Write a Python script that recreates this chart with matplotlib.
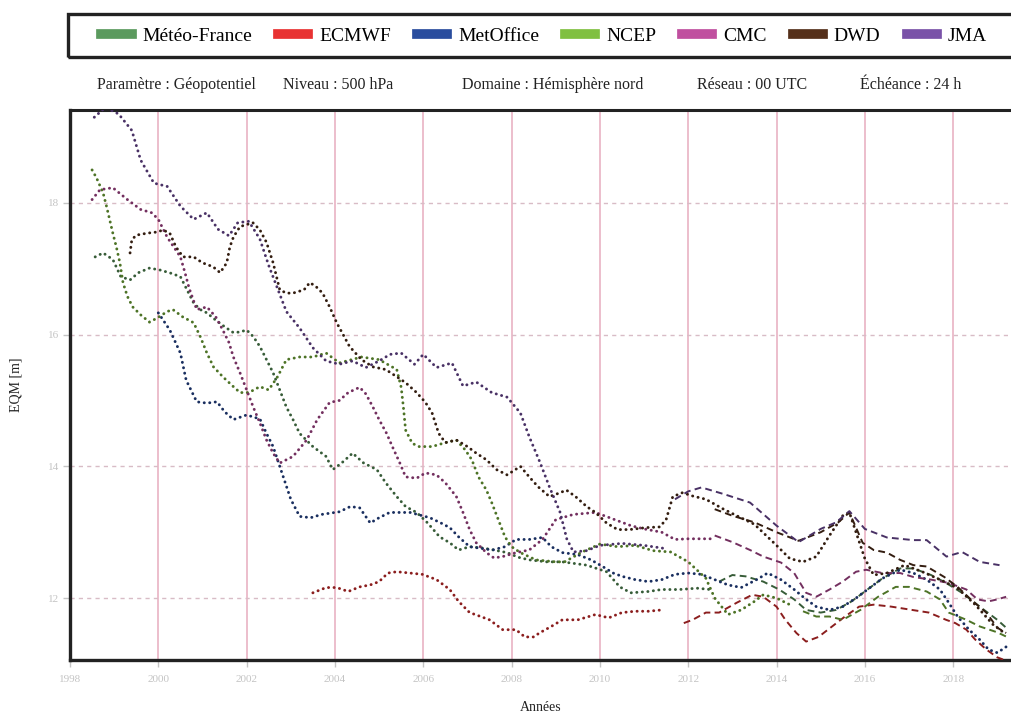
import matplotlib
matplotlib.use("Agg")
import matplotlib.pyplot as plt
from matplotlib.lines import Line2D
from matplotlib.patches import Rectangle

plt.rcParams['font.family'] = ['Liberation Serif', 'DejaVu Serif']

# Couleurs des centres (légende)
centres = ['Météo-France', 'ECMWF', 'MetOffice', 'NCEP', 'CMC', 'DWD', 'JMA']
couleurs = ['#5b9a5e', '#e83232', '#2a4d9e', '#80c040', '#c04f9f', '#55301a', '#7a52a8']

# ---- Données (EQM en m) ----
mf_x = [1998.57, 1998.75, 1998.97, 1999.15, 1999.36, 1999.55, 1999.8, 2000.04, 2000.25, 2000.5, 2000.65,
        2000.8, 2000.95, 2001.1, 2001.3, 2001.5, 2001.7, 2001.85, 2002.0, 2002.15, 2002.3, 2002.45, 2002.6,
        2002.75, 2002.9, 2003.05, 2003.2, 2003.5, 2003.8, 2003.95, 2004.15, 2004.4, 2004.65, 2004.95,
        2005.15, 2005.4, 2005.6, 2005.85, 2006.1, 2006.37, 2006.6, 2006.8, 2007.05, 2007.35, 2007.6,
        2007.9, 2008.15, 2008.4, 2008.8, 2009.15, 2009.7, 2010.15, 2010.45, 2010.7, 2011.1, 2011.4,
        2011.8, 2012.2, 2012.5]
mf_y = [17.18, 17.24, 17.14, 16.88, 16.83, 16.94, 17.01, 16.98, 16.94, 16.88, 16.68,
        16.48, 16.38, 16.33, 16.22, 16.12, 16.03, 16.04, 16.07, 15.97, 15.82, 15.62, 15.42,
        15.16, 14.9, 14.71, 14.5, 14.3, 14.15, 13.95, 14.05, 14.2, 14.05, 13.95,
        13.75, 13.54, 13.39, 13.3, 13.14, 12.93, 12.84, 12.73, 12.78, 12.76, 12.73,
        12.69, 12.62, 12.58, 12.55, 12.55, 12.5, 12.4, 12.17, 12.08, 12.1, 12.13,
        12.13, 12.15, 12.13]
mf2_x = [2012.7, 2013.0, 2013.3, 2013.7, 2014.06, 2014.4, 2014.67, 2015.0, 2015.35, 2015.7, 2016.0,
         2016.4, 2016.8, 2017.1, 2017.5, 2017.84, 2018.2, 2018.6, 2019.0, 2019.2]
mf2_y = [12.25, 12.35, 12.33, 12.25, 12.13, 11.98, 11.82, 11.78, 11.82, 11.95, 12.1,
         12.3, 12.45, 12.45, 12.35, 12.23, 12.08, 11.87, 11.67, 11.55]

ec_x = [2003.5, 2003.8, 2004.04, 2004.3, 2004.56, 2004.8, 2005.0, 2005.2, 2005.4, 2005.7, 2005.98,
        2006.3, 2006.6, 2006.8, 2007.05, 2007.3, 2007.5, 2007.8, 2008.1, 2008.3, 2008.5, 2008.63,
        2008.9, 2009.15, 2009.5, 2009.9, 2010.2, 2010.5, 2010.8, 2011.1, 2011.4]
ec_y = [12.08, 12.16, 12.16, 12.1, 12.17, 12.2, 12.25, 12.38, 12.4, 12.38, 12.36,
        12.28, 12.13, 11.95, 11.78, 11.72, 11.67, 11.52, 11.52, 11.41, 11.41, 11.47,
        11.57, 11.67, 11.67, 11.75, 11.7, 11.78, 11.8, 11.8, 11.82]
ec2_x = [2011.9, 2012.1, 2012.4, 2012.7, 2013.1, 2013.45, 2013.7, 2014.0, 2014.2, 2014.45, 2014.67,
         2014.95, 2015.26, 2015.55, 2015.87, 2016.2, 2016.6, 2017.07, 2017.45, 2017.84, 2018.05,
         2018.3, 2018.5, 2018.75, 2019.0, 2019.2]
ec2_y = [11.62, 11.67, 11.78, 11.78, 11.93, 12.05, 12.02, 11.87, 11.67, 11.47, 11.34,
         11.41, 11.57, 11.72, 11.87, 11.9, 11.87, 11.82, 11.78, 11.67, 11.62,
         11.52, 11.37, 11.22, 11.1, 11.05]

mo_x = [2000.0, 2000.26, 2000.5, 2000.63, 2000.87, 2001.1, 2001.33, 2001.5, 2001.7, 2002.0, 2002.3,
        2002.45, 2002.6, 2002.75, 2002.9, 2003.0, 2003.2, 2003.45, 2003.7, 2004.1, 2004.35, 2004.56,
        2004.8, 2005.0, 2005.24, 2005.7, 2006.15, 2006.4, 2006.6, 2006.8, 2007.05, 2007.57, 2007.85,
        2008.1, 2008.4, 2008.7, 2008.9, 2009.15, 2009.5, 2009.8, 2010.06, 2010.3, 2010.5, 2010.8,
        2011.1, 2011.4, 2011.7, 2012.0, 2012.3, 2012.6, 2012.9, 2013.2, 2013.55, 2013.8, 2014.1,
        2014.4, 2014.67, 2014.9, 2015.2, 2015.5, 2015.8, 2016.1, 2016.4, 2016.8, 2017.1, 2017.4,
        2017.7, 2017.9, 2018.1, 2018.36, 2018.6, 2018.8, 2019.0, 2019.2]
mo_y = [16.33, 16.07, 15.72, 15.31, 14.98, 14.96, 14.98, 14.83, 14.71, 14.78, 14.72,
        14.5, 14.3, 14.0, 13.7, 13.5, 13.24, 13.22, 13.27, 13.31, 13.39, 13.37,
        13.14, 13.22, 13.3, 13.3, 13.22, 13.14, 13.07, 12.93, 12.78, 12.73, 12.78,
        12.89, 12.89, 12.92, 12.78, 12.69, 12.66, 12.58, 12.48, 12.38, 12.33, 12.28,
        12.25, 12.28, 12.36, 12.38, 12.36, 12.28, 12.2, 12.16, 12.28, 12.38, 12.28,
        12.13, 11.98, 11.87, 11.82, 11.87, 12.0, 12.15, 12.3, 12.43, 12.38, 12.28,
        12.13, 11.93, 11.72, 11.52, 11.37, 11.22, 11.17, 11.26]

nc_x = [1998.5, 1998.6, 1998.75, 1998.83, 1998.9, 1998.97, 1999.05, 1999.13, 1999.2, 1999.3, 1999.42,
        1999.6, 1999.8, 1999.97, 2000.2, 2000.33, 2000.55, 2000.8, 2000.95, 2001.1, 2001.25, 2001.46,
        2001.7, 2001.85, 2002.05, 2002.3, 2002.5, 2002.7, 2002.9, 2003.2, 2003.5, 2003.8, 2004.1,
        2004.6, 2005.0, 2005.4, 2005.5, 2005.55, 2005.6, 2005.75, 2005.9, 2006.2, 2006.5, 2006.75,
        2006.95, 2007.1, 2007.25, 2007.43, 2007.55, 2007.7, 2007.85, 2008.0, 2008.2, 2008.55, 2009.0,
        2009.2, 2009.6, 2010.0, 2010.4, 2010.8, 2011.2, 2011.6, 2012.0, 2012.4, 2012.6, 2012.9,
        2013.2, 2013.5, 2013.7, 2014.0, 2014.3]
nc_y = [18.5, 18.38, 18.15, 17.94, 17.74, 17.54, 17.33, 17.09, 16.79, 16.58, 16.42,
        16.3, 16.19, 16.25, 16.35, 16.38, 16.27, 16.18, 15.97, 15.72, 15.51, 15.36,
        15.21, 15.12, 15.12, 15.21, 15.16, 15.36, 15.62, 15.66, 15.66, 15.72, 15.57,
        15.66, 15.62, 15.47, 15.2, 14.9, 14.55, 14.35, 14.3, 14.3, 14.36, 14.4,
        14.25, 14.1, 13.84, 13.64, 13.45, 13.19, 12.93, 12.78, 12.69, 12.58, 12.55,
        12.55, 12.7, 12.82, 12.78, 12.8, 12.72, 12.7, 12.55, 12.3, 12.0, 11.75,
        11.82, 11.95, 12.05, 12.0, 11.9]
nc2_x = [2014.6, 2014.9, 2015.2, 2015.5, 2015.9, 2016.3, 2016.7, 2017.0, 2017.4, 2017.7, 2017.9,
         2018.3, 2018.6, 2019.0, 2019.25]
nc2_y = [11.8, 11.72, 11.72, 11.67, 11.82, 12.02, 12.17, 12.17, 12.1, 11.98, 11.78,
         11.67, 11.57, 11.48, 11.4]

cmc_x = [1998.5, 1998.68, 1998.97, 1999.3, 1999.6, 1999.85, 2000.0, 2000.2, 2000.35, 2000.5, 2000.6,
         2000.7, 2000.87, 2001.1, 2001.3, 2001.46, 2001.6, 2001.7, 2001.85, 2002.0, 2002.15, 2002.3,
         2002.45, 2002.6, 2002.75, 2003.05, 2003.36, 2003.6, 2003.88, 2004.1, 2004.3, 2004.56, 2004.7,
         2004.86, 2005.0, 2005.17, 2005.3, 2005.47, 2005.6, 2005.85, 2006.05, 2006.3, 2006.5, 2006.75,
         2006.9, 2007.05, 2007.2, 2007.43, 2007.6, 2007.8, 2008.1, 2008.4, 2008.7, 2009.0, 2009.4,
         2009.9, 2010.3, 2010.7, 2011.0, 2011.4, 2011.7, 2012.0, 2012.5]
cmc_y = [18.05, 18.2, 18.23, 18.05, 17.9, 17.85, 17.75, 17.48, 17.33, 17.18, 16.95,
         16.7, 16.38, 16.42, 16.27, 16.07, 15.88, 15.66, 15.42, 15.16, 14.9, 14.66,
         14.4, 14.2, 14.05, 14.15, 14.4, 14.71, 14.97, 15.0, 15.12, 15.2, 15.1,
         14.9, 14.71, 14.5, 14.3, 14.05, 13.84, 13.82, 13.9, 13.87, 13.75, 13.54,
         13.3, 13.04, 12.84, 12.69, 12.61, 12.63, 12.69, 12.73, 12.89, 13.19, 13.27,
         13.3, 13.2, 13.1, 13.05, 13.0, 12.89, 12.9, 12.9]
cmc2_x = [2012.6, 2013.0, 2013.4, 2013.7, 2014.1, 2014.4, 2014.67, 2014.9, 2015.2, 2015.5, 2015.8,
          2016.03, 2016.4, 2016.8, 2017.1, 2017.5, 2017.9, 2018.3, 2018.55, 2018.8, 2019.0, 2019.2]
cmc2_y = [12.95, 12.85, 12.73, 12.63, 12.54, 12.38, 12.08, 12.02, 12.13, 12.25, 12.4,
          12.43, 12.38, 12.38, 12.32, 12.28, 12.23, 12.13, 11.98, 11.95, 11.98, 12.02]

dwd_x = [1999.36, 1999.4, 1999.5, 1999.75, 2000.0, 2000.1, 2000.26, 2000.4, 2000.56, 2000.8, 2001.0,
         2001.24, 2001.4, 2001.55, 2001.62, 2001.7, 2001.85, 2002.0, 2002.14, 2002.3, 2002.45, 2002.6,
         2002.75, 2002.9, 2003.05, 2003.3, 2003.43, 2003.57, 2003.72, 2003.88, 2004.04, 2004.33, 2004.6,
         2004.86, 2005.15, 2005.4, 2005.6, 2005.85, 2006.05, 2006.2, 2006.35, 2006.5, 2006.75, 2007.0,
         2007.2, 2007.43, 2007.66, 2007.9, 2008.2, 2008.4, 2008.6, 2008.86, 2009.1, 2009.24, 2009.45,
         2009.7, 2009.9, 2010.15, 2010.4, 2010.67, 2011.05, 2011.35, 2011.5, 2011.65, 2011.87, 2012.1,
         2012.4, 2012.8, 2013.1, 2013.5, 2014.0, 2014.3, 2014.6, 2014.9, 2015.2, 2015.5, 2015.65,
         2015.85, 2016.0, 2016.2, 2016.5, 2016.9, 2017.3, 2017.8, 2018.1, 2018.5, 2018.9, 2019.2]
dwd_y = [17.24, 17.44, 17.51, 17.54, 17.56, 17.59, 17.54, 17.33, 17.18, 17.18, 17.09,
         17.03, 16.94, 17.09, 17.33, 17.48, 17.64, 17.67, 17.7, 17.59, 17.4, 17.09,
         16.68, 16.63, 16.63, 16.68, 16.79, 16.73, 16.63, 16.42, 16.18, 15.82, 15.62,
         15.51, 15.47, 15.36, 15.27, 15.12, 14.97, 14.81, 14.5, 14.36, 14.4, 14.3,
         14.2, 14.1, 13.95, 13.87, 14.0, 13.84, 13.69, 13.54, 13.6, 13.64, 13.54,
         13.39, 13.3, 13.14, 13.04, 13.04, 13.07, 13.08, 13.19, 13.54, 13.6, 13.55,
         13.5, 13.35, 13.25, 13.12, 12.8, 12.6, 12.55, 12.63, 12.95, 13.25, 13.3,
         12.9, 12.6, 12.35, 12.38, 12.5, 12.4, 12.25, 12.15, 11.9, 11.6, 11.45]
dwd2_x = [2012.6, 2013.0, 2013.5, 2014.0, 2014.5, 2015.0, 2015.4, 2015.65, 2015.95, 2016.2, 2016.5,
          2016.8, 2017.1, 2017.4, 2017.8, 2018.1, 2018.4, 2018.75, 2019.0, 2019.2]
dwd2_y = [13.35, 13.25, 13.15, 13.0, 12.87, 13.0, 13.15, 13.3, 12.84, 12.73, 12.69,
          12.58, 12.5, 12.48, 12.32, 12.17, 11.98, 11.78, 11.55, 11.47]

jma_x = [1998.55, 1998.8, 1999.1, 1999.4, 1999.6, 1999.9, 2000.2, 2000.5, 2000.8, 2001.1, 2001.35,
         2001.6, 2001.8, 2002.05, 2002.3, 2002.5, 2002.7, 2002.9, 2003.2, 2003.5, 2003.8, 2004.1,
         2004.4, 2004.7, 2005.0, 2005.25, 2005.5, 2005.8, 2006.0, 2006.3, 2006.65, 2006.9, 2007.2,
         2007.55, 2007.9, 2008.2, 2008.4, 2008.65, 2008.85, 2009.1, 2009.25, 2009.4, 2009.7, 2010.0,
         2010.5, 2011.0, 2011.5]
jma_y = [19.3, 19.45, 19.35, 19.1, 18.65, 18.3, 18.25, 17.95, 17.75, 17.85, 17.6,
         17.5, 17.7, 17.72, 17.45, 17.05, 16.7, 16.35, 16.1, 15.8, 15.6, 15.55,
         15.6, 15.5, 15.6, 15.7, 15.72, 15.55, 15.7, 15.5, 15.57, 15.22, 15.28,
         15.12, 15.05, 14.81, 14.45, 14.05, 13.7, 13.3, 12.9, 12.7, 12.72, 12.8,
         12.83, 12.8, 12.75]
jma2_x = [2011.7, 2012.0, 2012.3, 2012.8, 2013.4, 2014.0, 2014.5, 2015.0, 2015.35, 2015.65, 2016.0,
          2016.5, 2017.1, 2017.4, 2017.85, 2018.2, 2018.6, 2019.05]
jma2_y = [13.5, 13.62, 13.68, 13.58, 13.45, 13.1, 12.85, 13.05, 13.15, 13.32, 13.05,
          12.92, 12.88, 12.88, 12.63, 12.7, 12.55, 12.5]

# (centre, x, y, style)
series = [
    (0, mf_x, mf_y, 'dot'), (0, mf2_x, mf2_y, 'dash'),
    (1, ec_x, ec_y, 'dot'), (1, ec2_x, ec2_y, 'dash'),
    (2, mo_x, mo_y, 'dot'),
    (3, nc_x, nc_y, 'dot'), (3, nc2_x, nc2_y, 'dash'),
    (4, cmc_x, cmc_y, 'dot'), (4, cmc2_x, cmc2_y, 'dash'),
    (5, dwd_x, dwd_y, 'dot'), (5, dwd2_x, dwd2_y, 'dash'),
    (6, jma_x, jma_y, 'dot'), (6, jma2_x, jma2_y, 'dash'),
]


def assombrir(hexcol, f=0.6):
    r, g, b = matplotlib.colors.to_rgb(hexcol)
    return (r * f, g * f, b * f)


fig = plt.figure(figsize=(10.11, 7.13), dpi=100)
ax = fig.add_axes([70 / 1011, 53 / 713, 941 / 1011, 550 / 713])

for i, xs, ys, style in series:
    c = assombrir(couleurs[i])
    if style == 'dot':
        ax.plot(xs, ys, color=c, lw=2.1, linestyle=(0, (0.05, 1.85)),
                dash_capstyle='round', solid_capstyle='round', zorder=3)
    else:
        ax.plot(xs, ys, color=c, lw=1.4, linestyle=(0, (3.5, 2.2)), zorder=3)

ax.set_xlim(1998, 2019.31)
ax.set_ylim(11.06, 19.41)
ax.set_xticks(range(1998, 2019, 2))
ax.set_yticks([12, 14, 16, 18])
ax.grid(axis='x', color='#ebb9c8', lw=1.3, linestyle='-')
ax.grid(axis='y', color='#d8bcc6', lw=1.0, linestyle=(0, (3, 3)))
ax.set_axisbelow(True)
ax.tick_params(axis='both', colors='#c4c4c4', labelsize=8, length=5, width=1)
ax.tick_params(axis='y', pad=3)
ax.tick_params(axis='x', pad=6)

for s in ['left', 'bottom', 'top']:
    ax.spines[s].set_color('#222222')
ax.spines['left'].set_linewidth(2.4)
ax.spines['bottom'].set_linewidth(2.4)
ax.spines['top'].set_linewidth(2.2)
ax.spines['right'].set_visible(False)

ax.set_xlabel('Années', fontsize=10, color='#222222', labelpad=12)
ax.set_ylabel('EQM [m]', fontsize=10, color='#222222', labelpad=18)

# Cadre de la légende
fig.patches.append(Rectangle((68 / 1011, 1 - 57 / 713), 960 / 1011, 43 / 713,
                             transform=fig.transFigure, fill=False,
                             ec='#222222', lw=2.4))
handles = [Line2D([], [], color=c, lw=7) for c in couleurs]
fig.legend(handles, centres, loc='center', bbox_to_anchor=(544 / 1011, 1 - 36 / 713),
           ncol=7, frameon=False, fontsize=14, handlelength=1.55,
           columnspacing=1.35, handletextpad=0.55)

# Ligne des paramètres
infos = [('Paramètre : Géopotentiel', 97), ('Niveau : 500 hPa', 283),
         ('Domaine : Hémisphère nord', 462), ('Réseau : 00 UTC', 697),
         ('Échéance : 24 h', 860)]
for txt, px in infos:
    fig.text(px / 1011, 1 - 89 / 713, txt, fontsize=11.5, color='#222222',
             ha='left', va='baseline')

fig.savefig('out.png', dpi=100)
